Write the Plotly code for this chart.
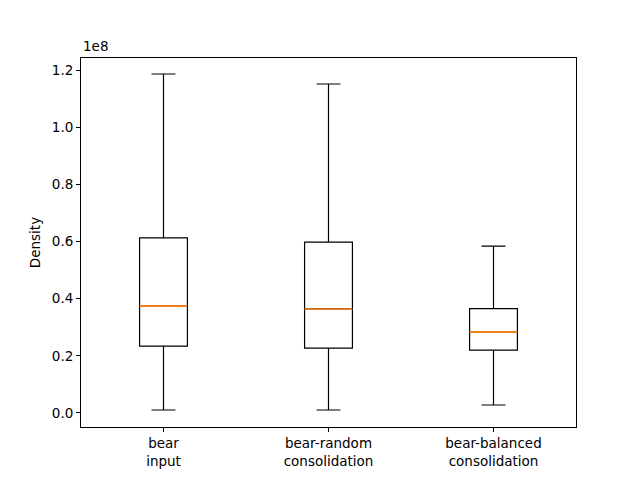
import plotly.graph_objects as go

# Boxplot statistics (Density values)
labels = ["bear<br>input", "bear-random<br>consolidation", "bear-balanced<br>consolidation"]
positions = [1, 2, 3]
lower_whisker = [0.0105e8, 0.0105e8, 0.028e8]
q1 = [0.234e8, 0.227e8, 0.220e8]
median = [0.374e8, 0.364e8, 0.283e8]
q3 = [0.613e8, 0.598e8, 0.365e8]
upper_whisker = [1.186e8, 1.151e8, 0.584e8]

tick_vals = [0.0, 0.2e8, 0.4e8, 0.6e8, 0.8e8, 1.0e8, 1.2e8]
tick_text = ["0.0", "0.2", "0.4", "0.6", "0.8", "1.0", "1.2"]

box_width = 0.29

fig = go.Figure()
fig.add_trace(go.Box(
    x=positions, q1=q1, median=median, q3=q3,
    lowerfence=lower_whisker, upperfence=upper_whisker,
    width=box_width, whiskerwidth=0.5,
    line=dict(color="black", width=1.2),
    fillcolor="rgba(0,0,0,0)",
    boxpoints=False, showlegend=False, hoverinfo="skip",
))

# orange median lines like matplotlib
for p, m in zip(positions, median):
    fig.add_trace(go.Scatter(
        x=[p - box_width / 2, p + box_width / 2], y=[m, m],
        mode="lines", line=dict(color="#ff7f0e", width=1.6),
        showlegend=False, hoverinfo="skip",
    ))

fig.update_layout(
    width=640, height=480,
    margin=dict(l=73, r=72, t=50, b=61),
    paper_bgcolor="white", plot_bgcolor="white",
    font=dict(family="DejaVu Sans", size=13.5, color="black"),
    xaxis=dict(
        range=[0.5, 3.5], tickvals=positions, ticktext=labels,
        showgrid=False, zeroline=False,
        showline=True, linecolor="black", linewidth=1, mirror=True,
        ticks="outside", ticklen=4, tickcolor="black",
        tickfont=dict(size=13.5),
    ),
    yaxis=dict(
        range=[-0.049e8, 1.242e8], tickvals=tick_vals, ticktext=tick_text,
        showgrid=False, zeroline=False,
        showline=True, linecolor="black", linewidth=1, mirror=True,
        ticks="outside", ticklen=4, tickcolor="black",
        tickfont=dict(size=13.5),
        title=dict(text="Density", standoff=8, font=dict(size=13.5)),
    ),
    annotations=[dict(
        text="1e8", xref="paper", yref="paper", x=0, y=1,
        xanchor="left", yanchor="bottom", showarrow=False, yshift=2,
        font=dict(size=13.5),
    )],
)

fig.write_html("out.html")
